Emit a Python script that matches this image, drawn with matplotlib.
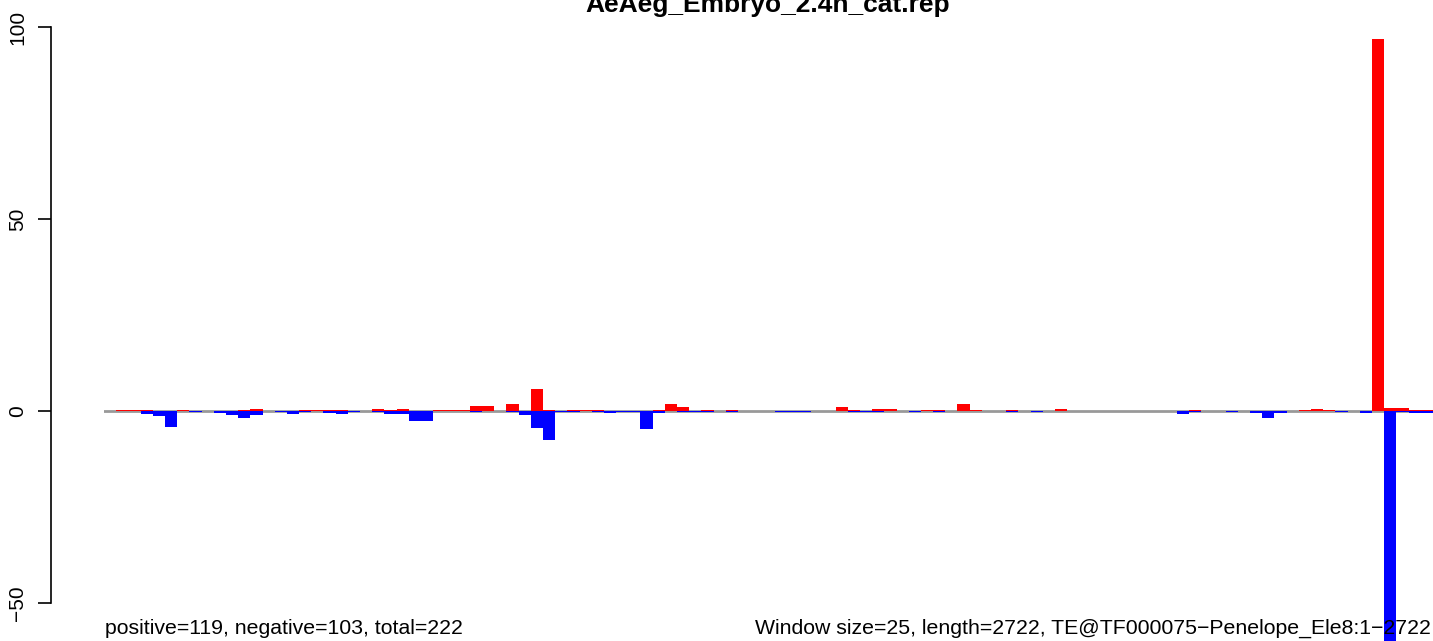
"""
Strand-split read coverage per 25 bp window along a TE consensus.
Red = positive strand, blue = negative strand.
"""

import numpy as np
import matplotlib
matplotlib.use('Agg')
import matplotlib.pyplot as plt

plt.rcParams['font.family'] = ['Liberation Sans', 'DejaVu Sans']

title = 'AeAeg_Embryo_2.4h_cat.rep'
left_note = 'positive=119, negative=103, total=222'
right_note = 'Window size=25, length=2722, TE@TF000075\u2212Penelope_Ele8:1\u22122722'

# one value per 25 bp window (109 windows)
positive = [
    0, 0.2, 0.2, 0.2, 0, 0, 0.2, 0, 0, 0,
    0, 0.2, 0.45, 0, 0, 0, 0.2, 0.2, 0.2, 0.2,
    0, 0, 0.45, 0.2, 0.45, 0, 0, 0.2, 0.2, 0.2,
    1.2, 1.2, 0, 1.9, 0, 5.8, 0.2, 0, 0.2, 0.2,
    0.2, 0, 0, 0, 0, 0.3, 1.9, 1.1, 0, 0.3,
    0, 0.3, 0, 0, 0, 0, 0, 0, 0, 0,
    1.1, 0.2, 0, 0.4, 0.6, 0, 0, 0.2, 0.2, 0,
    1.7, 0.2, 0, 0, 0.2, 0, 0, 0, 0.4, 0,
    0, 0, 0, 0, 0, 0, 0, 0, 0, 0.2,
    0, 0, 0, 0, 0, 0, 0, 0, 0.2, 0.45,
    0.2, 0, 0, 0, 96.9, 0.7, 0.7, 0.2, 0.2,
]
negative = [
    0, 0, 0, -0.7, -1.4, -4.1, 0, -0.2, 0, -0.6,
    -1.1, -1.8, -1.1, 0, -0.2, -0.8, -0.3, 0, -0.5, -0.8,
    -0.3, 0, -0.3, -0.8, -0.8, -2.7, -2.7, 0, 0, 0,
    -0.3, 0, 0, -0.3, -1.1, -4.3, -7.6, -0.3, -0.3, 0,
    -0.3, -0.6, -0.2, -0.2, -4.6, -0.6, 0, -0.3, -0.3, -0.3,
    0, -0.3, 0, 0, 0, -0.3, -0.3, -0.2, 0, 0,
    0, -0.3, -0.3, -0.3, 0, 0, -0.2, 0, -0.3, 0,
    0, 0, 0, 0, -0.3, 0, -0.2, 0, 0, 0,
    0, 0, 0, 0, 0, 0, 0, 0, -0.9, -0.3,
    0, 0, -0.3, 0, -0.5, -1.8, -0.5, 0, 0, 0,
    0, -0.3, 0, -0.5, 0, -96.0, -0.3, -0.5, -0.5,
]
y_ticks = [-50, 0, 50, 100]

W, H, DPI = 1433, 641, 100
fig = plt.figure(figsize=(W / DPI, H / DPI), dpi=DPI)

# plot region: x from pixel 104 to the right edge, y scale 3.84 px per unit
ax = fig.add_axes([104 / W, 0, 1 - 104 / W, 1])
ax.set_xlim(0, len(positive))
ax.set_ylim(-(641 - 411) / 3.84, 100 + 27 / 3.84)

x = np.arange(len(positive))
ax.axhline(0, color='#999999', lw=2, zorder=1)
ax.bar(x, positive, width=1, align='edge', color='#ff0000', linewidth=0, zorder=2)
ax.bar(x, negative, width=1, align='edge', color='#0000ff', linewidth=0, zorder=2)

for side in ['top', 'right', 'bottom']:
    ax.spines[side].set_visible(False)
ax.spines['left'].set_position(('outward', 53 * 72 / DPI))
ax.spines['left'].set_bounds(-50, 100)
ax.spines['left'].set_linewidth(1.2)
ax.set_xticks([])
ax.set_yticks(y_ticks)
ax.set_yticklabels([str(t).replace('-', '\u2212') for t in y_ticks],
                   rotation=90, va='center', fontsize=15)
ax.tick_params(axis='y', length=13 * 72 / DPI, width=1.2, pad=8)

# title sits half outside the top edge, as in the source image
fig.text(768 / W, 1 - 12 / H, title, ha='center', va='baseline',
         fontsize=19, fontweight='bold')
fig.text(105 / W, 1 - 628 / H, left_note, ha='left', va='center', fontsize=15.3)
fig.text(1431 / W, 1 - 628 / H, right_note, ha='right', va='center', fontsize=15.3)

fig.savefig('out.png', dpi=DPI)
